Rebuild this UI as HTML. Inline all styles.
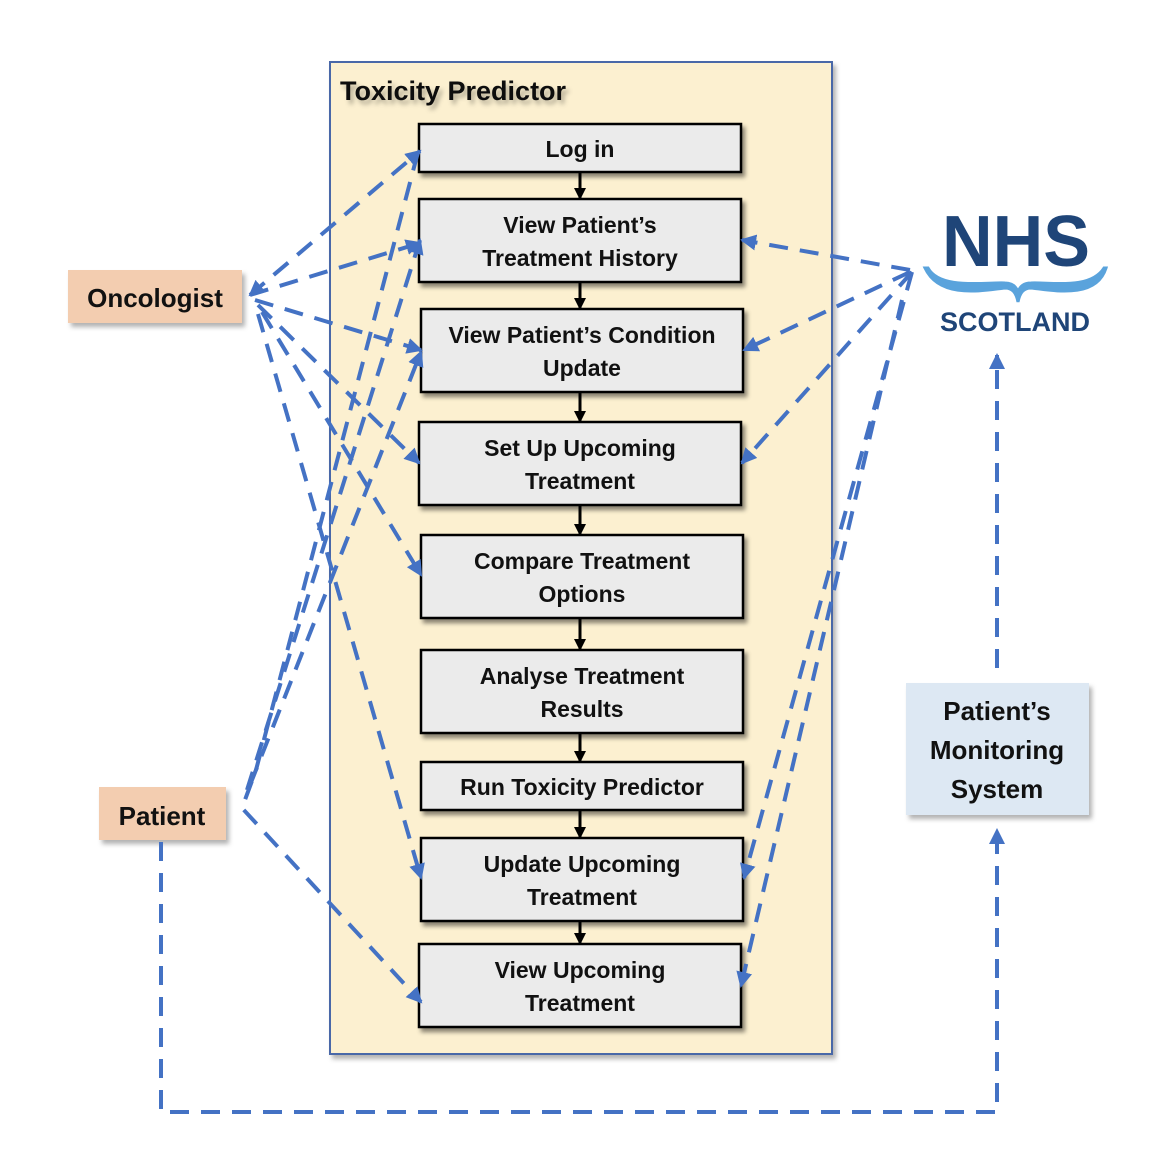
<!DOCTYPE html>
<html><head><meta charset="utf-8"><style>
html,body{margin:0;padding:0;background:#fff;}
svg{display:block;}
text{font-family:"Liberation Sans",sans-serif;font-weight:bold;}
</style></head><body>
<svg width="1156" height="1172" viewBox="0 0 1156 1172" xmlns="http://www.w3.org/2000/svg">
<defs>
<filter id="sh" x="-10%" y="-10%" width="130%" height="140%"><feDropShadow dx="3" dy="4" stdDeviation="2" flood-color="#000" flood-opacity="0.45"/></filter>
<filter id="sh2" x="-10%" y="-10%" width="130%" height="140%"><feDropShadow dx="3" dy="4" stdDeviation="2.5" flood-color="#000" flood-opacity="0.3"/></filter>
<marker id="ab" markerWidth="12" markerHeight="12" refX="10" refY="6" orient="auto" markerUnits="userSpaceOnUse"><path d="M0,0 L12,6 L0,12 z" fill="#000"/></marker>
<marker id="bl" markerWidth="16" markerHeight="16" refX="14" refY="8" orient="auto" markerUnits="userSpaceOnUse"><path d="M0,0 L16,8 L0,16 z" fill="#4472c4"/></marker>
<marker id="bs" markerWidth="16" markerHeight="16" refX="2" refY="8" orient="auto" markerUnits="userSpaceOnUse"><path d="M16,0 L0,8 L16,16 z" fill="#4472c4"/></marker>
</defs>

<rect x="330" y="62" width="502" height="992" fill="#fcf0d0" stroke="#4a67a8" stroke-width="2" filter="url(#sh2)"/>
<text x="340" y="100" font-size="27" fill="#111" filter="url(#sh2)">Toxicity Predictor</text>

<g stroke="#000" stroke-width="3" marker-end="url(#ab)">
<line x1="580" y1="172" x2="580" y2="198"/>
<line x1="580" y1="282" x2="580" y2="308"/>
<line x1="580" y1="392" x2="580" y2="421"/>
<line x1="580" y1="505" x2="580" y2="534"/>
<line x1="580" y1="618" x2="580" y2="649"/>
<line x1="580" y1="733" x2="580" y2="761"/>
<line x1="580" y1="810" x2="580" y2="837"/>
<line x1="580" y1="921" x2="580" y2="943"/>
</g>

<g fill="#ebebeb" stroke="#000" stroke-width="2.5" filter="url(#sh)">
<rect x="419" y="124" width="322" height="48"/>
<rect x="419" y="199" width="322" height="83"/>
<rect x="421" y="309" width="322" height="83"/>
<rect x="419" y="422" width="322" height="83"/>
<rect x="421" y="535" width="322" height="83"/>
<rect x="421" y="650" width="322" height="83"/>
<rect x="421" y="762" width="322" height="48"/>
<rect x="421" y="838" width="322" height="83"/>
<rect x="419" y="944" width="322" height="83"/>
</g>
<g font-size="23" fill="#111" text-anchor="middle">
<text x="580" y="157">Log in</text>
<text x="580" y="233">View Patient’s</text>
<text x="580" y="266">Treatment History</text>
<text x="582" y="343">View Patient’s Condition</text>
<text x="582" y="376">Update</text>
<text x="580" y="456">Set Up Upcoming</text>
<text x="580" y="489">Treatment</text>
<text x="582" y="569">Compare Treatment</text>
<text x="582" y="602">Options</text>
<text x="582" y="684">Analyse Treatment</text>
<text x="582" y="717">Results</text>
<text x="582" y="795">Run Toxicity Predictor</text>
<text x="582" y="872">Update Upcoming</text>
<text x="582" y="905">Treatment</text>
<text x="580" y="978">View Upcoming</text>
<text x="580" y="1011">Treatment</text>
</g>

<rect x="68" y="270" width="174" height="53" fill="#f3cdb0" filter="url(#sh2)"/>
<text x="155" y="307" font-size="26" fill="#111" text-anchor="middle">Oncologist</text>
<rect x="99" y="787" width="127" height="53" fill="#f3cdb0" filter="url(#sh2)"/>
<text x="162" y="825" font-size="26" fill="#111" text-anchor="middle">Patient</text>
<rect x="906" y="683" width="183" height="132" fill="#dde8f3" filter="url(#sh2)"/>
<g font-size="26" fill="#111" text-anchor="middle">
<text x="997" y="720">Patient’s</text>
<text x="997" y="759">Monitoring</text>
<text x="997" y="798">System</text>
</g>

<text x="1016" y="266" font-size="72" fill="#1f4578" text-anchor="middle" textLength="148" lengthAdjust="spacingAndGlyphs">NHS</text>
<path d="M925,268 C940,300 985,290 1005,288 C1012,288 1016,292 1018,302 C1020,292 1024,288 1031,288 C1051,290 1096,300 1106,268 L1104,268 C1090,290 1051,282 1031,283 C1024,283 1020,286 1018,292 C1016,286 1012,283 1005,283 C985,282 940,290 928,268 z" fill="#5aa3dc" stroke="#5aa3dc" stroke-width="3"/>
<text x="1015" y="331" font-size="27" fill="#1f4578" text-anchor="middle" font-weight="normal">SCOTLAND</text>

<g stroke="#4472c4" stroke-width="4" stroke-dasharray="19 12" fill="none">
<line x1="250" y1="295" x2="420" y2="151" marker-end="url(#bl)" marker-start="url(#bs)"/>
<line x1="250" y1="295" x2="420" y2="243" marker-end="url(#bl)"/>
<line x1="255" y1="300" x2="421" y2="350" marker-end="url(#bl)"/>
<line x1="258" y1="305" x2="419" y2="463" marker-end="url(#bl)"/>
<line x1="262" y1="312" x2="421" y2="575" marker-end="url(#bl)"/>
<line x1="258" y1="314" x2="421" y2="878" marker-end="url(#bl)"/>
<polyline points="418,152 256,770 242,808 421,1002" marker-end="url(#bl)"/>
<line x1="247" y1="790" x2="420" y2="240" marker-end="url(#bl)"/>
<line x1="250" y1="785" x2="421" y2="352" marker-end="url(#bl)"/>
<line x1="910" y1="270" x2="742" y2="240" marker-end="url(#bl)"/>
<line x1="910" y1="272" x2="744" y2="350" marker-end="url(#bl)"/>
<line x1="912" y1="272" x2="742" y2="463" marker-end="url(#bl)"/>
<line x1="912" y1="272" x2="744" y2="878" marker-end="url(#bl)"/>
<line x1="902" y1="300" x2="741" y2="986" marker-end="url(#bl)"/>
<polyline points="161,842 161,1112 997,1112 997,830" marker-end="url(#bl)"/>
<line x1="997" y1="668" x2="997" y2="355" marker-end="url(#bl)"/>
</g>
</svg>
</body></html>
